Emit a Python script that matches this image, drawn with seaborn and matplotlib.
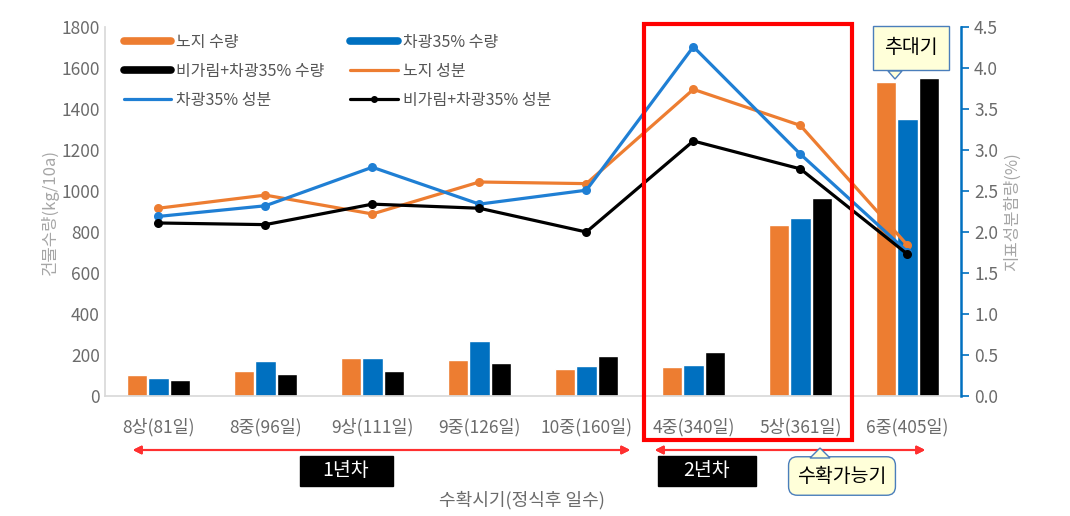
import numpy as np
import pandas as pd
import seaborn as sns
import matplotlib.pyplot as plt
from matplotlib.patches import Rectangle, Polygon
from matplotlib.lines import Line2D

# data
periods = ["8상(81일)", "8중(96일)", "9상(111일)", "9중(126일)", "10중(160일)",
           "4중(340일)", "5상(361일)", "6중(405일)"]
yield_open = [100, 120, 185, 175, 130, 140, 835, 1530]
yield_shade = [90, 170, 185, 270, 145, 150, 870, 1350]
yield_rain = [80, 105, 120, 160, 195, 215, 965, 1550]
comp_open = [2.29, 2.45, 2.22, 2.61, 2.59, 3.74, 3.30, 1.84]
comp_shade = [2.19, 2.32, 2.79, 2.34, 2.51, 4.26, 2.95, 1.76]
comp_rain = [2.11, 2.09, 2.34, 2.29, 2.00, 3.11, 2.77, 1.73]

bar_names = ["노지 수량", "차광35% 수량", "비가림+차광35% 수량"]
line_names = ["노지 성분", "차광35% 성분", "비가림+차광35% 성분"]
orange, blue, black = "#ED7D31", "#0070C0", "#000000"
lblue = "#1F7FD4"
gray = "#6b6b6b"

sns.set_theme(style="white")
plt.rcParams['font.family'] = ['Noto Sans CJK KR', 'DejaVu Sans']

df_bar = pd.DataFrame({"period": periods * 3,
                       "value": yield_open + yield_shade + yield_rain,
                       "series": np.repeat(bar_names, len(periods))})
df_line = pd.DataFrame({"x": list(range(len(periods))) * 3,
                        "value": comp_open + comp_shade + comp_rain,
                        "series": np.repeat(line_names, len(periods))})

fig = plt.figure(figsize=(10.70, 5.16), dpi=100)
ax = fig.add_axes([0.098, 0.2326, 0.800, 0.715])
sns.barplot(data=df_bar, x="period", y="value", hue="series", ax=ax,
            palette=[orange, blue, black], width=0.6, gap=0.05,
            saturation=1, legend=False)
ax.set_xlim(-0.5, 7.5)
ax.set_ylim(0, 1800)
ax.set_yticks(range(0, 1801, 200))
ax.set_xlabel("")
ax.set_ylabel("건물수량(kg/10a)", color="#a6a6a6", fontsize=12, labelpad=2)
ax.tick_params(axis="both", colors=gray, labelsize=12.5, length=0)
ax.tick_params(axis="x", pad=16)
for s in ["top", "right"]:
    ax.spines[s].set_visible(False)
ax.spines["left"].set_color("#d9d9d9")
ax.spines["bottom"].set_color("#d9d9d9")

ax2 = ax.twinx()
sns.lineplot(data=df_line, x="x", y="value", hue="series", ax=ax2,
             palette=[orange, lblue, black], marker="o", markersize=6.5,
             markeredgewidth=0, linewidth=2.3, legend=False)
ax2.set_xlim(-0.5, 7.5)
ax2.set_ylim(0, 4.5)
ax2.set_yticks(np.arange(0, 4.51, 0.5))
ax2.set_yticklabels([f"{v:.1f}" for v in np.arange(0, 4.51, 0.5)])
ax2.set_ylabel("지표성분함량(%)", color="#a6a6a6", fontsize=12, rotation=90, labelpad=4)
ax2.tick_params(axis="y", colors=blue, labelcolor=gray, labelsize=12.5,
                direction="out", length=6, width=1.2)
for s in ["top", "left", "bottom"]:
    ax2.spines[s].set_visible(False)
ax2.spines["right"].set_color(blue)
ax2.spines["right"].set_linewidth(1.8)

# legend (row-wise order)
h = {bar_names[0]: Line2D([], [], color=orange, lw=5.5),
     bar_names[1]: Line2D([], [], color=blue, lw=5.5),
     bar_names[2]: Line2D([], [], color=black, lw=5.5),
     line_names[0]: Line2D([], [], color=orange, lw=2.3),
     line_names[1]: Line2D([], [], color=lblue, lw=2.3),
     line_names[2]: Line2D([], [], color=black, lw=2.3, marker="o", markersize=4)}
order = [bar_names[0], bar_names[2], line_names[1], bar_names[1], line_names[0], line_names[2]]
ax2.legend([h[k] for k in order], order, ncol=2, loc="upper left",
           bbox_to_anchor=(0.005, 1.02), frameon=False, fontsize=11.5,
           handlelength=3.0, handletextpad=0.3, columnspacing=1.6,
           labelspacing=0.75, labelcolor="#555555")

W, H = 1070, 516
def fx(px):
    return px / W
def fy(py):
    return 1 - py / H

# red highlight box
fig.patches.append(Rectangle((fx(644), fy(440)), fx(852) - fx(644), fy(24) - fy(440),
                             transform=fig.transFigure, fill=False,
                             edgecolor="#FF0000", linewidth=3))

# year arrows
for x0, x1 in [(130, 633), (652, 928)]:
    fig.add_artist(plt.annotate("", xy=(fx(x0), fy(450)), xytext=(fx(x1), fy(450)),
                                xycoords="figure fraction", textcoords="figure fraction",
                                arrowprops=dict(arrowstyle="<|-|>", color="#FF3030",
                                                lw=1.5, mutation_scale=12)))

# year boxes
fig.patches.append(Rectangle((fx(300), fy(486)), fx(93), fy(0) - fy(30),
                             transform=fig.transFigure, color="black"))
fig.patches.append(Rectangle((fx(658), fy(486)), fx(98), fy(0) - fy(30),
                             transform=fig.transFigure, color="black"))
for txt, xc in [("1년차", 346), ("2년차", 707)]:
    fig.text(fx(xc), fy(471), txt, ha="center", va="center", color="white", fontsize=14)

# callouts
fig.text(fx(842), fy(476), "수확가능기", ha="center", va="center", color="black",
         fontsize=14, bbox=dict(boxstyle="round,pad=0.45", fc="#FFFFD9", ec="#4A7EBB", lw=1))
fig.patches.append(Polygon([[fx(810), fy(458)], [fx(820), fy(448)], [fx(830), fy(458)]],
                           closed=True, transform=fig.transFigure, fc="#FFFFD9",
                           ec="#4A7EBB", lw=1, zorder=5))
fig.text(fx(911), fy(48), "추대기", ha="center", va="center", color="black",
         fontsize=14, bbox=dict(boxstyle="square,pad=0.6", fc="#FFFFD9", ec="#4A7EBB", lw=1))
fig.patches.append(Polygon([[fx(888), fy(71)], [fx(895), fy(79)], [fx(902), fy(71)]],
                           closed=True, transform=fig.transFigure, fc="#FFFFD9",
                           ec="#4A7EBB", lw=1, zorder=5))

fig.text(fx(522), fy(500), "수확시기(정식후 일수)", ha="center", va="center",
         color=gray, fontsize=13)

fig.savefig("out.png", dpi=100)
